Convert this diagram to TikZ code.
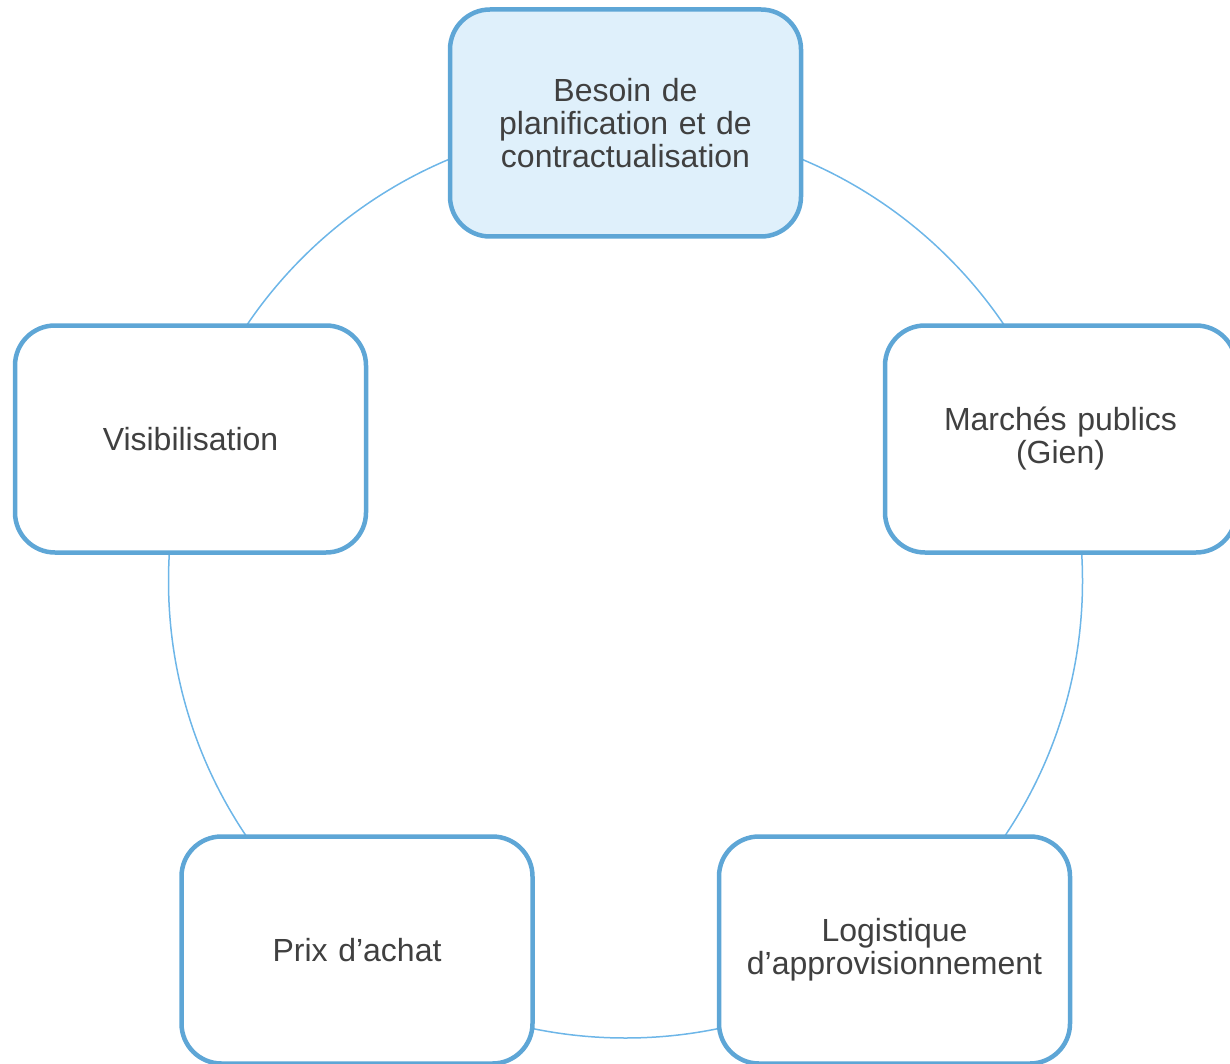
\documentclass[tikz,border=0pt]{standalone}
\usepackage{fontspec}
\setmainfont{Liberation Sans}
\definecolor{boxline}{RGB}{94,166,214}
\definecolor{boxfill}{RGB}{223,240,251}
\definecolor{ringline}{RGB}{109,182,232}
\definecolor{txt}{RGB}{64,64,64}
\begin{document}
\begin{tikzpicture}[x=1pt,y=-1pt,
  cyclebox/.style={draw=boxline, line width=4.5pt, fill=white, rounded corners=40pt,
    minimum width=351pt, minimum height=227pt, inner sep=0pt, align=center,
    text=txt, font=\fontsize{32}{33}\selectfont, text width=340pt},
  topbox/.style={cyclebox, fill=boxfill}]
\useasboundingbox (0,0) rectangle (1230,1064);
\begin{scope}
\clip (0,0) rectangle (1230,1064);
\draw[ringline, line width=1.5pt] (625.5,581) circle[radius=457];
\node[topbox] (n1) at (625.5,123) {Besoin de\\planification et de\\contractualisation};
\node[cyclebox] (n2) at (1060.5,439) {Marchés publics\\(Gien)};
\node[cyclebox] (n3) at (894.5,950) {Logistique\\d’approvisionnement};
\node[cyclebox] (n4) at (357,950) {Prix d’achat};
\node[cyclebox] (n5) at (190.5,439) {Visibilisation};
\end{scope}
\end{tikzpicture}
\end{document}
